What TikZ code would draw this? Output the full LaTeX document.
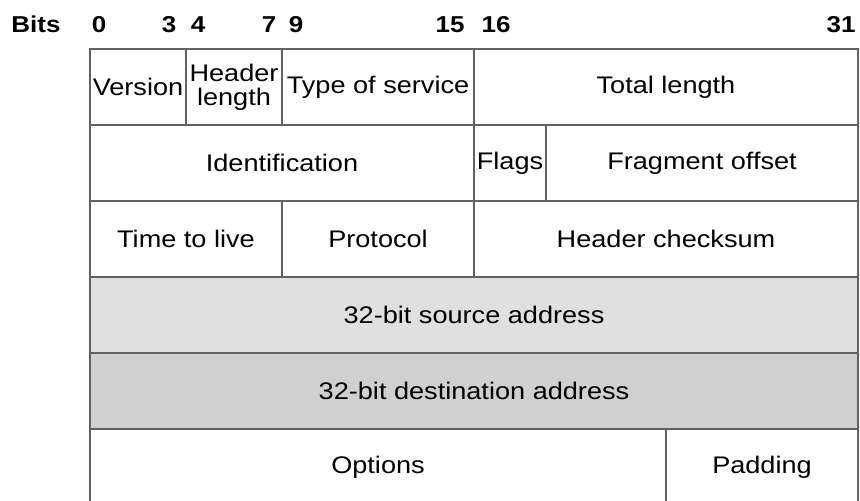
\documentclass[tikz,border=0pt]{standalone}
\usepackage{fontspec}
\setmainfont[FakeStretch=1.13]{Liberation Sans}
\usepackage{tikz}
\usetikzlibrary{arrows.meta,positioning}
\definecolor{srcgray}{HTML}{E0E0E0}
\definecolor{dstgray}{HTML}{D0D0D0}

\begin{document}
\begin{tikzpicture}[
  x=0.5pt, y=-0.5pt,
  cell/.style={draw=black!62, line width=0.75pt, inner sep=0pt, outer sep=0pt,
    minimum width=#1*12pt, minimum height=38pt, align=center,
    font=\fontsize{12}{12.5}\selectfont},
  bitnum/.style={anchor=base, inner sep=0pt, font=\fontsize{11.5}{12}\selectfont\bfseries}
]
\useasboundingbox (0,0) rectangle (860,501);
\clip (0,0) rectangle (860,501);

\node[bitnum] (bits) at (36,33) {Bits};
\node[bitnum] (b0) at (99,33) {0};
\node[bitnum] (b3) at (169,33) {3};
\node[bitnum] (b4) at (198,33) {4};
\node[bitnum] (b7) at (269,33) {7};
\node[bitnum] (b9) at (296,33) {9};
\node[bitnum] (b15) at (450,33) {15};
\node[bitnum] (b16) at (496,33) {16};
\node[bitnum] (b31) at (841,33) {31};

\node[cell=4] (version) at (138,87) {Version};
\node[cell=4, font=\fontsize{12}{12}\selectfont] (hlen) at (234,87) {Header\\length};
\node[cell=8] (tos) at (378,87) {Type of service};
\node[cell=16] (totlen) at (666,87) {Total length};

\node[cell=16] (ident) at (282,163) {Identification};
\node[cell=3] (flags) at (510,163) {Flags};
\node[cell=13] (fragoff) at (702,163) {Fragment offset};

\node[cell=8] (ttl) at (186,239) {Time to live};
\node[cell=8] (proto) at (378,239) {Protocol};
\node[cell=16] (hcheck) at (666,239) {Header checksum};

\node[cell=32, fill=srcgray] (srcaddr) at (474,315) {32-bit source address};
\node[cell=32, fill=dstgray] (dstaddr) at (474,391) {32-bit destination address};

\node[cell=24] (options) at (378,467) {Options};
\node[cell=8] (padding) at (762,467) {Padding};
\end{tikzpicture}
\end{document}
